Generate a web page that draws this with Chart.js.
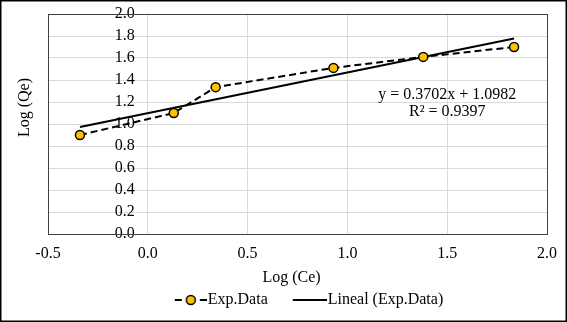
<!DOCTYPE html>
<html>
<head>
<meta charset="utf-8">
<script src="https://cdn.jsdelivr.net/npm/chart.js@4/dist/chart.umd.min.js"></script>
<style>
    body { margin: 0; background: #fff; }
    #wrap { width: 567px; height: 322px; position: relative; }
</style>
</head>
<body>
<div id="wrap"><canvas id="isotherm"></canvas></div>
<script>
// values
let logCe = [-0.34, 0.13, 0.34, 0.93, 1.38, 1.835];
let logQe = [0.90, 1.10, 1.335, 1.51, 1.61, 1.70];
let trendX = [-0.34, 1.835];
let trendY = [0.972, 1.777];
let xTicks = [-0.5, 0.0, 0.5, 1.0, 1.5, 2.0];
let yTicks = [0.0, 0.2, 0.4, 0.6, 0.8, 1.0, 1.2, 1.4, 1.6, 1.8, 2.0];
let equationText = ['y = 0.3702x + 1.0982', 'R\u00B2 = 0.9397'];
let xTitle = 'Log (Ce)';
let yTitle = 'Log (Qe)';

const fontName = '"Liberation Serif", "Times New Roman", serif';
const gold = '#FFC000';

// legend symbol: blank left part so the visible mark sits right next to the text
function legendSymbol(dashed) {
    const blank = dashed ? 30 : 28;
    const mark = dashed ? 32 : 34;
    const c = document.createElement('canvas');
    c.width = blank + mark;
    c.height = 12;
    const g = c.getContext('2d');
    g.translate(blank, 0);
    g.strokeStyle = '#000';
    g.lineWidth = 2;
    g.beginPath();
    if (dashed) {
        g.moveTo(0, 6); g.lineTo(7, 6);
        g.moveTo(25, 6); g.lineTo(32, 6);
    } else {
        g.moveTo(0, 6); g.lineTo(34, 6);
    }
    g.stroke();
    if (dashed) {
        g.beginPath();
        g.arc(16, 6, 4.5, 0, Math.PI * 2);
        g.fillStyle = gold;
        g.fill();
        g.lineWidth = 1.5;
        g.stroke();
    }
    return c;
}

const framePlugin = {
    id: 'frame',
    afterDraw(chart) {
        const ctx = chart.ctx;
        const a = chart.chartArea;
        const xs = chart.scales.x;
        const ys = chart.scales.y;
        ctx.save();
        ctx.strokeStyle = '#404040';
        ctx.lineWidth = 1;
        ctx.strokeRect(Math.round(a.left) + 0.5, Math.round(a.top) + 0.5, Math.round(a.right - a.left), Math.round(a.bottom - a.top));
        ctx.strokeStyle = '#000';
        ctx.lineWidth = 1.5;
        ctx.strokeRect(0.75, 0.75, chart.width - 1.5, chart.height - 1.5);

        ctx.fillStyle = '#000';
        ctx.font = '16px ' + fontName;
        ctx.textAlign = 'center';
        ctx.textBaseline = 'middle';
        const ex = xs.getPixelForValue(1.5);
        const ey = ys.getPixelForValue(1.27);
        ctx.fillText(equationText[0], ex, ey);
        ctx.fillText(equationText[1], ex, ey + 17);

        // axis titles (Excel puts them a bit off the plot centre)
        ctx.fillText(xTitle, xs.getPixelForValue(0.72), xs.bottom - 10.6);
        ctx.translate(25, ys.getPixelForValue(1.15));
        ctx.rotate(-Math.PI / 2);
        ctx.fillText(yTitle, 0, 0);
        ctx.restore();
    }
};

function drawChart() {
    const ctx = document.getElementById('isotherm').getContext('2d');
    const points = logCe.map((x, i) => ({x: x, y: logQe[i]}));
    const trend = trendX.map((x, i) => ({x: x, y: trendY[i]}));
    const symbols = [legendSymbol(true), legendSymbol(false)];

    let myChart = new Chart(ctx, {
        type: 'scatter',
        data: {
            datasets: [{
                label: 'Exp.Data',
                data: points,
                showLine: true,
                borderColor: '#000',
                borderWidth: 2,
                borderDash: [7, 4],
                pointRadius: 4.5,
                pointBorderWidth: 1.5,
                pointBorderColor: '#000',
                pointBackgroundColor: gold,
                order: 1,
            },
            {
                label: 'Lineal (Exp.Data)',
                data: trend,
                showLine: true,
                borderColor: '#000',
                borderWidth: 2,
                pointRadius: 0,
                order: 2,
            }]
        },
        options: {
            responsive: true,
            maintainAspectRatio: false,
            animation: false,
            layout: {
                padding: {left: 48, right: 20, top: 14, bottom: 4}
            },
            plugins: {
                legend: {
                    position: 'bottom',
                    labels: {
                        usePointStyle: true,
                        pointStyleWidth: 48,
                        padding: 4,
                        color: '#000',
                        font: {family: fontName, size: 16},
                        generateLabels: chart => chart.data.datasets.map((d, i) => ({
                            text: d.label,
                            pointStyle: symbols[i],
                            fontColor: '#000',
                            lineWidth: 0,
                            datasetIndex: i,
                        })),
                    },
                },
                tooltip: {enabled: false},
            },
            scales: {
                x: {
                    type: 'linear',
                    min: -0.5,
                    max: 2.0,
                    afterBuildTicks: axis => { axis.ticks = xTicks.map(v => ({value: v})); },
                    // room for the title drawn by the plugin
                    afterFit: axis => { axis.height += 14.8; },
                    grid: {color: '#d9d9d9', drawTicks: false},
                    border: {display: false},
                    ticks: {
                        padding: 10,
                        autoSkip: false,
                        maxRotation: 0,
                        color: '#000',
                        font: {family: fontName, size: 16},
                        callback: v => v.toFixed(1),
                    },
                },
                y: {
                    type: 'linear',
                    position: {x: -0.065},
                    min: 0,
                    max: 2.0,
                    afterBuildTicks: axis => { axis.ticks = yTicks.map(v => ({value: v})); },
                    grid: {color: '#d9d9d9', drawTicks: false},
                    border: {display: false},
                    ticks: {
                        autoSkip: false,
                        color: '#000',
                        font: {family: fontName, size: 16},
                        callback: v => v.toFixed(1),
                    },
                },
            },
        },
        plugins: [framePlugin],
    });
}

drawChart();
</script>
</body>
</html>
